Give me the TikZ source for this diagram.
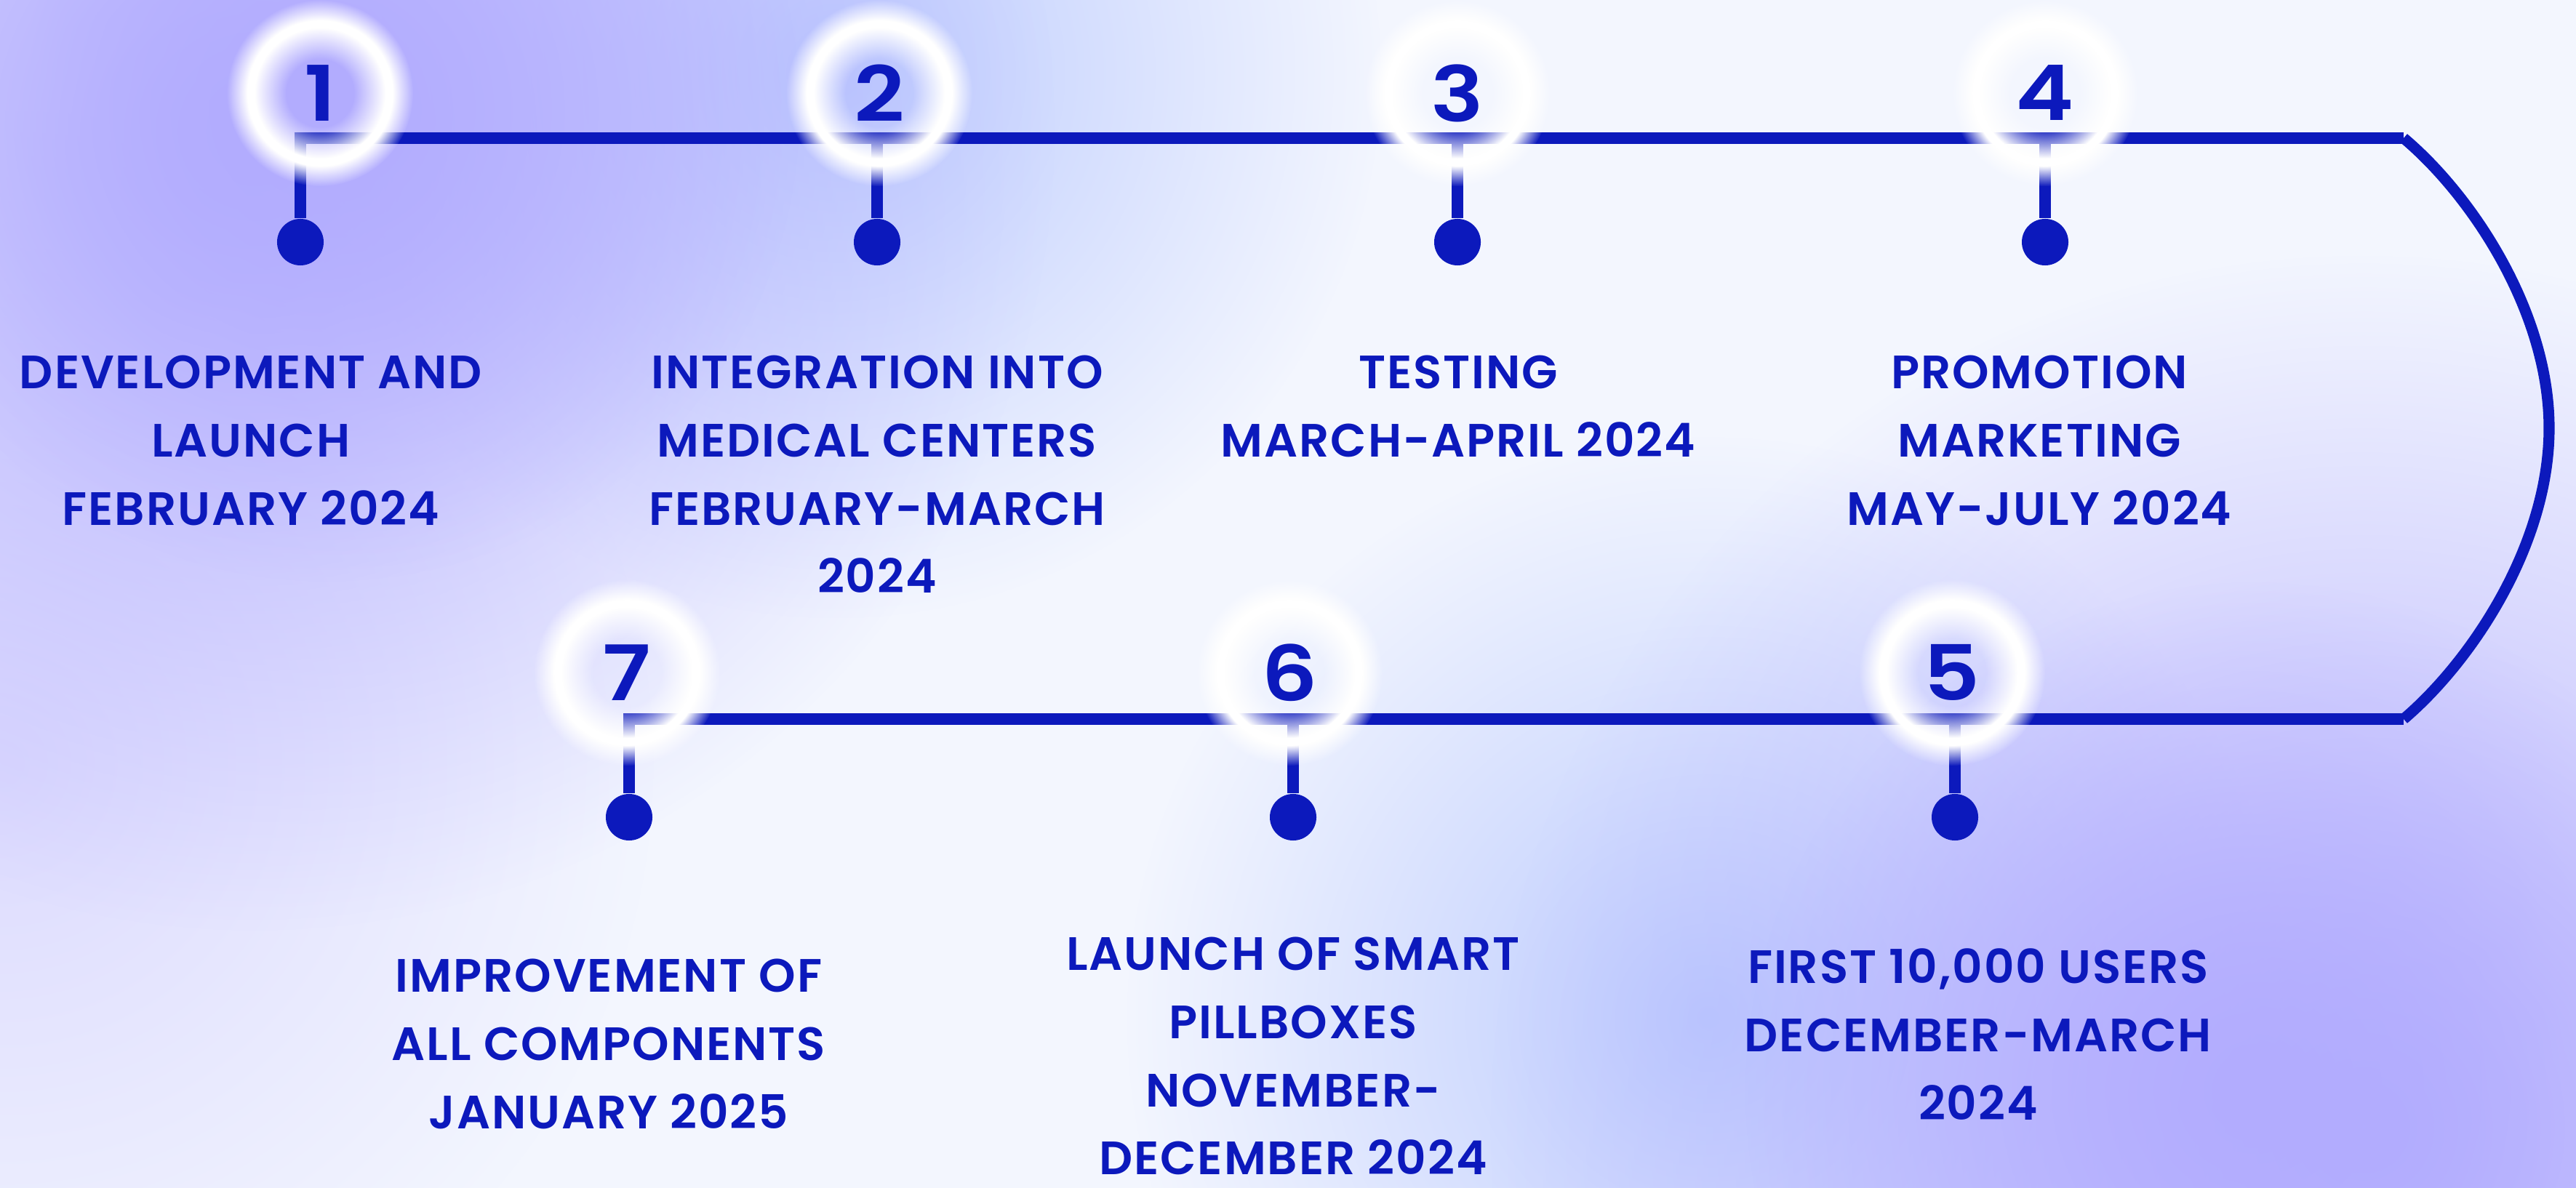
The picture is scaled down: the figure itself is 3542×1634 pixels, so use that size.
\documentclass[tikz,border=0pt]{standalone}
\usepackage{fontspec}
\usepackage{graphicx}
\setmainfont{Poppins}[BoldFont={Poppins SemiBold}, LetterSpace=3]
\usepackage{tikz}
\usetikzlibrary{fadings}
\definecolor{tlblue}{HTML}{0C19BC}
\definecolor{bgpale}{HTML}{F3F6FE}
\definecolor{blobpurple}{HTML}{B2ACFF}
\definecolor{blobblue}{HTML}{BCCBFF}
\definecolor{bloblav}{HTML}{DCDAFF}
\tikzfading[name=softblob, inner color=transparent!0, outer color=transparent!100]
\pgfdeclareradialshading{glowring}{\pgfpointorigin}{color(0bp)=(black); color(9bp)=(black); color(17.5bp)=(white); color(19.5bp)=(white); color(25bp)=(black); color(50bp)=(black)}
\pgfdeclarefading{ringfade}{\pgfuseshading{glowring}}
\tikzset{%
  tl/.style={tlblue, line width=4.3pt},
  dot/.style={circle, fill=tlblue, minimum size=0.64cm, inner sep=0pt},
  num/.style={text=tlblue, font=\fontsize{30}{30}\selectfont\bfseries, inner sep=0pt},
  lbl/.style={text=tlblue, font=\fontsize{18.3}{26.7}\selectfont\bfseries, align=center, anchor=north, inner sep=0pt}
}

\begin{document}
\begin{tikzpicture}[x=0.01cm,y=-0.01cm]
\useasboundingbox (0,0) rectangle (3542,1634);
\fill[bgpale] (0,0) rectangle (3542,1634);
\fill[bloblav, path fading=softblob] (0,1050) circle (900);
\fill[blobblue, path fading=softblob] (1150,100) circle (750);
\fill[blobpurple, path fading=softblob] (350,180) circle (1100);
\fill[blobpurple, path fading=softblob] (450,150) circle (650);
\fill[blobblue, path fading=softblob] (2350,1400) circle (800);
\fill[blobpurple, path fading=softblob] (3250,1550) circle (1200);
\fill[blobpurple, path fading=softblob] (3100,1500) circle (700);
\coordinate (e1) at (3305,190);
\coordinate (e2) at (3305,989);
\coordinate (cv) at (3505,589);
\coordinate (s2) at (1206,190);
\coordinate (s3) at (2004,190);
\coordinate (s4) at (2812,190);
\coordinate (s6) at (1778,989);
\coordinate (s5) at (2688,989);
\node[dot] (d1) at (413,333) {};
\node[dot] (d2) at (1206,333) {};
\node[dot] (d3) at (2004,333) {};
\node[dot] (d4) at (2812,333) {};
\node[dot] (d7) at (865,1124) {};
\node[dot] (d6) at (1778,1124) {};
\node[dot] (d5) at (2688,1124) {};
\draw[tl] (d1) |- (e1);
\draw[tl] (d7) |- (e2);
\draw[tl] (e1) .. controls (3400,270) and (3505,430) .. (cv) .. controls (3505,748) and (3400,908) .. (e2);
\draw[tl] (s2) -- (d2);
\draw[tl] (s3) -- (d3);
\draw[tl] (s4) -- (d4);
\draw[tl] (s6) -- (d6);
\draw[tl] (s5) -- (d5);
\coordinate (c1) at (440,128);
\coordinate (c2) at (1209,128);
\coordinate (c3) at (2004,128);
\coordinate (c4) at (2812,128);
\coordinate (c7) at (862,925);
\coordinate (c6) at (1773,925);
\coordinate (c5) at (2684,925);
\fill[white, path fading=ringfade] (c1) circle (128);
\fill[white, path fading=ringfade] (c2) circle (128);
\fill[white, path fading=ringfade] (c3) circle (128);
\fill[white, path fading=ringfade] (c4) circle (128);
\fill[white, path fading=ringfade] (c7) circle (128);
\fill[white, path fading=ringfade] (c6) circle (128);
\fill[white, path fading=ringfade] (c5) circle (128);
\node[num] (n1) at (c1) {\scalebox{1.15}[1]{1}};
\node[num] (n2) at (c2) {\scalebox{1.15}[1]{2}};
\node[num] (n3) at (c3) {\scalebox{1.15}[1]{3}};
\node[num] (n4) at (c4) {\scalebox{1.15}[1]{4}};
\node[num] (n7) at (c7) {\scalebox{1.15}[1]{7}};
\node[num] (n6) at (c6) {\scalebox{1.15}[1]{6}};
\node[num] (n5) at (c5) {\scalebox{1.15}[1]{5}};
\node[lbl] (t1) at (345,488) {DEVELOPMENT AND\\LAUNCH\\FEBRUARY 2024};
\node[lbl] (t2) at (1206,488) {INTEGRATION INTO\\MEDICAL CENTERS\\FEBRUARY-MARCH\\2024};
\node[lbl] (t3) at (2005,488) {TESTING\\MARCH-APRIL 2024};
\node[lbl] (t4) at (2804,488) {PROMOTION\\MARKETING\\MAY-JULY 2024};
\node[lbl] (t7) at (837,1318) {IMPROVEMENT OF\\ALL COMPONENTS\\JANUARY 2025};
\node[lbl] (t6) at (1778,1288) {LAUNCH OF SMART\\PILLBOXES\\NOVEMBER-\\DECEMBER 2024};
\node[lbl] (t5) at (2720,1304) {FIRST 10,000 USERS\\DECEMBER-MARCH\\2024};
\end{tikzpicture}
\end{document}
